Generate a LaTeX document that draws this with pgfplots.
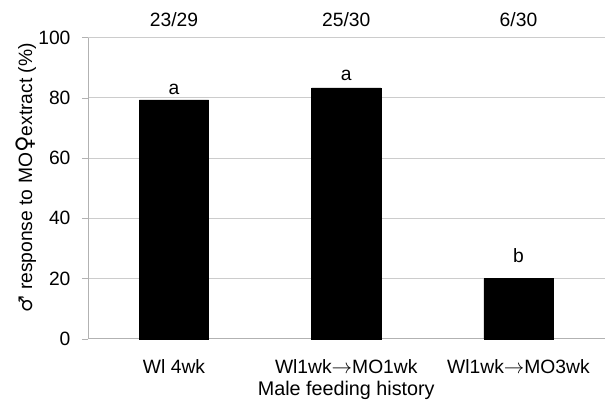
\documentclass[border=0pt]{standalone}
\usepackage{pgfplots}
\pgfplotsset{compat=1.18}
\usepackage{fontspec}
\setmainfont{Liberation Sans}
\newfontfamily\sym{DejaVu Sans}
\begin{document}
\fontsize{19.5}{22}\selectfont
\begin{tikzpicture}
\begin{axis}[
  scale only axis,
  width=523pt, height=305pt,
  xmin=-0.5, xmax=2.5,
  ymin=0, ymax=100,
  ytick={0,20,40,60,80,100},
  xtick={0,1,2},
  xticklabels={Wl 4wk, Wl1wk$\rightarrow$MO1wk, Wl1wk$\rightarrow$MO3wk},
  major x tick style={draw=none},
  extra x ticks={-0.5,0.5,1.5,2.5},
  extra x tick labels={},
  extra x tick style={grid=none, major tick length=5pt, tick style={draw=gray!60}},
  axis x line*=bottom, axis y line*=left,
  axis line style={draw=gray!60, line width=0.8pt},
  tick align=outside,
  major tick length=6pt,
  ymajorgrids,
  grid style={draw=gray!40, line width=0.8pt},
  ytick style={draw=gray!60},
  /pgf/number format/assume math mode=true,
  ticklabel style={font=\fontsize{19.5}{22}\selectfont},
  yticklabel style={xshift=-5pt},
  xticklabel style={yshift=-8pt},
  xlabel={Male feeding history},
  ylabel={{\sym\fontsize{19}{20}\selectfont ♂} response to MO{\sym\fontsize{23}{24}\selectfont ♀}extract (\%)},
  xlabel style={at={(axis description cs:0.5,-0.172)}, anchor=center, font=\fontsize{20}{22}\selectfont},
  ylabel style={at={(axis description cs:-0.12,0.535)}, anchor=center, font=\fontsize{19.5}{22}\selectfont},
  clip=false,
]
\addplot[ybar, bar width=70pt, fill=black, draw=black] coordinates {(0,79.3) (1,83.3) (2,20)};
\node[anchor=base] at (axis cs:0,81.0) {a};
\node[anchor=base] at (axis cs:1,85.7) {a};
\node[anchor=base] at (axis cs:2,25.5) {b};
\node[anchor=base] at (axis cs:0,103.7) {23/29};
\node[anchor=base] at (axis cs:1,103.7) {25/30};
\node[anchor=base] at (axis cs:2,103.7) {6/30};
\end{axis}
\path[use as bounding box] ([xshift=-89pt,yshift=-65.3pt]current axis.south west) rectangle ([yshift=38pt]current axis.north east);
\end{tikzpicture}
\end{document}
